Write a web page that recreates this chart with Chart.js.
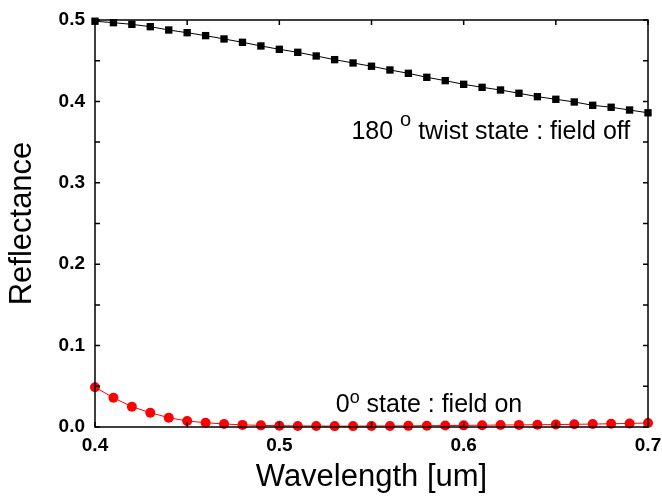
<!DOCTYPE html>
<html>
<head>
<meta charset="utf-8">
<script src="https://cdn.jsdelivr.net/npm/chart.js@4.4.1/dist/chart.umd.min.js"></script>
<style>
  html, body { margin: 0; padding: 0; background: #fff; }
  #wrap { width: 662px; height: 503px; }
</style>
</head>
<body>
<div id="wrap"><canvas id="myChart" width="662" height="503"></canvas></div>
<script>
// wavelength (um)
const wavelength = [0.40, 0.41, 0.42, 0.43, 0.44, 0.45, 0.46, 0.47, 0.48, 0.49, 0.50,
  0.51, 0.52, 0.53, 0.54, 0.55, 0.56, 0.57, 0.58, 0.59, 0.60,
  0.61, 0.62, 0.63, 0.64, 0.65, 0.66, 0.67, 0.68, 0.69, 0.70]

// 180 twist state : field off
const fieldOff = [0.4985, 0.4967, 0.4947, 0.4918, 0.4877, 0.4844, 0.4808, 0.4767, 0.4726, 0.4681, 0.4640,
  0.4603, 0.4558, 0.4513, 0.4472, 0.4432, 0.4386, 0.4345, 0.4296, 0.4255, 0.4210,
  0.4173, 0.4140, 0.4100, 0.4058, 0.4026, 0.3993, 0.3952, 0.3928, 0.3894, 0.3860]

// 0 state : field on
const fieldOn = [0.0488, 0.0360, 0.0249, 0.0176, 0.0114, 0.0074, 0.0053, 0.0037, 0.0026, 0.0020, 0.0016,
  0.0013, 0.0012, 0.0011, 0.0011, 0.0012, 0.0013, 0.0014, 0.0016, 0.0018, 0.0020,
  0.0022, 0.0024, 0.0026, 0.0028, 0.0030, 0.0033, 0.0036, 0.0040, 0.0044, 0.0049]

const xTicks = [0.4, 0.5, 0.6, 0.7]
const yTicks = [0.0, 0.1, 0.2, 0.3, 0.4, 0.5]

// annotation texts: [before, superscript, after]
const offText = ["180 ", "o", " twist state : field off"]
const onText = ["0", "o", " state : field on"]

const FONT = "'Liberation Sans', Arial, sans-serif"

const toPts = (ys) => wavelength.map((x, i) => ({ x: x, y: ys[i] }))

// frame + inward ticks on all 4 sides
const framePlugin = {
  id: "frame",
  afterDatasetsDraw(chart) {
    const { ctx, chartArea: a, scales } = chart
    ctx.save()
    ctx.strokeStyle = "#000"
    ctx.lineWidth = 1.5
    ctx.strokeRect(a.left, a.top, a.right - a.left, a.bottom - a.top)
    const len = 5
    ctx.beginPath()
    for (let v = 0.4; v <= 0.7001; v += 0.05) {
      const px = scales.x.getPixelForValue(v)
      ctx.moveTo(px, a.bottom); ctx.lineTo(px, a.bottom - len)
      ctx.moveTo(px, a.top); ctx.lineTo(px, a.top + len)
    }
    for (let v = 0; v <= 0.5001; v += 0.05) {
      const py = scales.y.getPixelForValue(v)
      ctx.moveTo(a.left, py); ctx.lineTo(a.left + len, py)
      ctx.moveTo(a.right, py); ctx.lineTo(a.right - len, py)
    }
    ctx.stroke()
    ctx.restore()
  },
}

// texts with raised "o"
const notePlugin = {
  id: "notes",
  afterDraw(chart) {
    const { ctx, scales } = chart
    const put = (parts, xv, yv, size, supSize, rise) => {
      let x = scales.x.getPixelForValue(xv)
      const y = scales.y.getPixelForValue(yv)
      ctx.save()
      ctx.fillStyle = "#000"
      ctx.textBaseline = "alphabetic"
      ctx.font = size + "px " + FONT
      ctx.fillText(parts[0], x, y)
      x += ctx.measureText(parts[0]).width
      ctx.font = supSize + "px " + FONT
      ctx.fillText(parts[1], x, y - rise)
      x += ctx.measureText(parts[1]).width
      ctx.font = size + "px " + FONT
      ctx.fillText(parts[2], x, y)
      ctx.restore()
    }
    put(offText, 0.5391, 0.3538, 25, 20, 13)
    put(onText, 0.5306, 0.0188, 25, 18, 9)
  },
}

const ctx = document.getElementById("myChart")

new Chart(ctx, {
  type: "scatter",
  data: {
    datasets: [
      {
        label: "field off",
        data: toPts(fieldOff),
        showLine: true,
        borderColor: "#000",
        backgroundColor: "#000",
        borderWidth: 1,
        pointStyle: "rect",
        pointRadius: 5.2,
        pointBorderWidth: 0,
      },
      {
        label: "field on",
        data: toPts(fieldOn),
        showLine: true,
        borderColor: "#ff0000",
        backgroundColor: "#ff0000",
        borderWidth: 1,
        pointStyle: "circle",
        pointRadius: 5,
        pointBorderWidth: 0,
      },
    ],
  },
  options: {
    responsive: false,
    animation: false,
    clip: false,
    layout: { padding: { top: 20, right: 14, left: 0, bottom: 0 } },
    plugins: { legend: { display: false }, tooltip: { enabled: false } },
    scales: {
      x: {
        type: "linear",
        min: 0.4,
        max: 0.7,
        afterBuildTicks: (s) => { s.ticks = xTicks.map((v) => ({ value: v })) },
        afterFit: (s) => { s.height = 76; s.paddingLeft = 0; s.paddingRight = 0 },
        grid: { display: false, drawTicks: false },
        border: { display: false },
        ticks: {
          color: "#000",
          padding: 7,
          maxRotation: 0,
          font: { family: FONT, size: 19, weight: "bold" },
          callback: (v) => v.toFixed(1),
        },
        title: {
          display: true,
          text: "Wavelength [um]",
          color: "#000",
          font: { family: FONT, size: 31, lineHeight: 1 },
          padding: { top: 0, bottom: 10 },
        },
      },
      y: {
        type: "linear",
        min: 0,
        max: 0.5,
        afterBuildTicks: (s) => { s.ticks = yTicks.map((v) => ({ value: v })) },
        afterFit: (s) => { s.width = 95; s.paddingTop = 0; s.paddingBottom = 0 },
        grid: { display: false, drawTicks: false },
        border: { display: false },
        ticks: {
          color: "#000",
          padding: 10,
          font: { family: FONT, size: 19, weight: "bold" },
          callback: (v) => v.toFixed(1),
        },
        title: {
          display: true,
          text: "Reflectance",
          color: "#000",
          font: { family: FONT, size: 31, lineHeight: 1 },
          padding: { top: 7, bottom: 0 },
        },
      },
    },
  },
  plugins: [framePlugin, notePlugin],
})
</script>
</body>
</html>
